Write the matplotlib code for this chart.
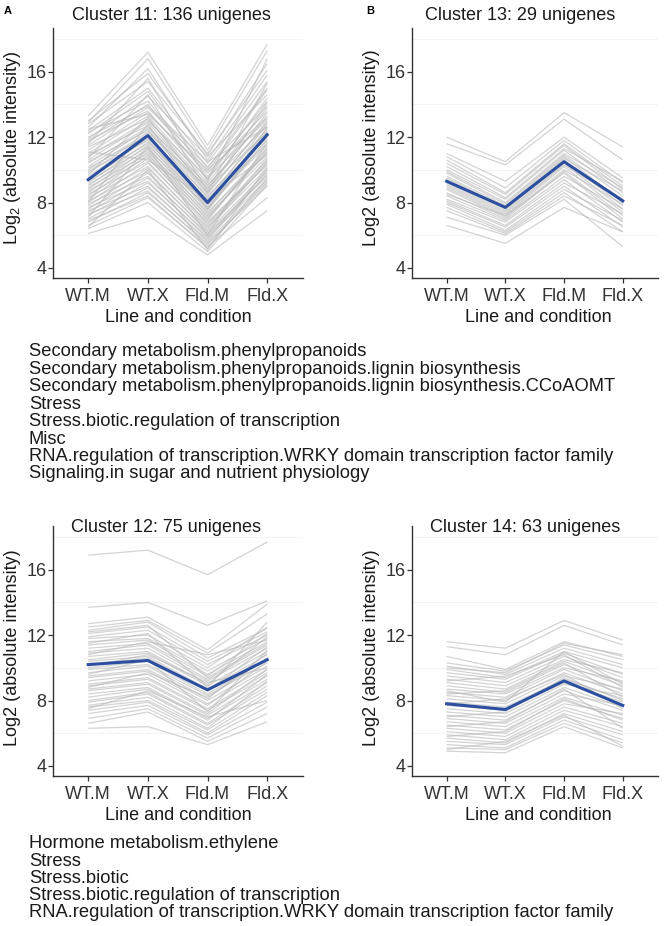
import matplotlib
matplotlib.use('Agg')
import matplotlib.pyplot as plt

plt.rcParams['font.family'] = ['Liberation Sans', 'DejaVu Sans']
plt.rcParams['mathtext.fontset'] = 'custom'
plt.rcParams['mathtext.rm'] = 'Liberation Sans'
plt.rcParams['mathtext.it'] = 'Liberation Sans:italic'

# ---- data ----
conditions = ['WT.M', 'WT.X', 'Fld.M', 'Fld.X']

c11_title = 'Cluster 11: 136 unigenes'
c11_mean = [9.4, 12.1, 8.0, 12.15]
c11_lines = [
    [13.3, 17.2, 11.5, 17.7], [12.9, 16.8, 11.2, 17.3], [13.0, 15.9, 10.9, 16.5],
    [12.6, 16.2, 10.6, 15.8], [12.8, 15.4, 11.0, 16.1], [12.4, 15.0, 10.4, 15.4],
    [12.2, 14.8, 10.1, 15.0], [11.9, 14.5, 10.8, 14.6], [12.3, 14.2, 9.9, 14.9],
    [11.7, 14.0, 9.6, 14.2], [11.5, 13.8, 10.2, 13.9], [11.8, 13.6, 9.4, 14.4],
    [11.2, 13.5, 9.8, 13.6], [11.0, 13.3, 9.2, 13.8], [11.4, 13.1, 9.0, 13.3],
    [10.8, 13.0, 9.5, 13.1], [10.6, 12.9, 8.8, 13.5], [10.9, 12.7, 8.6, 12.9],
    [10.4, 12.6, 9.1, 12.7], [10.2, 12.5, 8.5, 13.0], [10.5, 12.4, 8.3, 12.5],
    [10.0, 12.3, 8.9, 12.3], [9.8, 12.2, 8.1, 12.8], [10.1, 12.1, 8.0, 12.1],
    [9.6, 12.0, 8.4, 12.0], [9.4, 11.9, 7.8, 12.4], [9.9, 11.8, 7.6, 11.8],
    [9.2, 11.7, 8.2, 11.6], [9.5, 11.6, 7.5, 12.2], [9.0, 11.5, 7.9, 11.5],
    [9.3, 11.4, 7.3, 11.3], [8.8, 11.3, 7.7, 11.9], [9.1, 11.2, 7.1, 11.1],
    [8.6, 11.1, 7.4, 11.0], [8.9, 11.0, 6.9, 11.4], [8.4, 10.9, 7.2, 10.8],
    [8.7, 10.8, 6.7, 10.6], [8.2, 10.7, 7.0, 11.2], [8.5, 10.5, 6.6, 10.4],
    [8.0, 10.4, 6.8, 10.3], [8.3, 10.2, 6.4, 10.7], [7.8, 10.1, 6.5, 10.1],
    [8.1, 9.9, 6.2, 9.9], [7.6, 9.8, 6.3, 10.5], [7.9, 9.6, 6.0, 9.7],
    [7.4, 9.5, 6.1, 9.6], [7.7, 9.3, 5.8, 10.0], [7.2, 9.2, 5.9, 9.4],
    [7.5, 9.0, 5.6, 9.3], [7.0, 8.9, 5.7, 9.8], [7.3, 8.7, 5.4, 9.2],
    [6.8, 8.6, 5.5, 9.0], [6.9, 8.4, 5.2, 9.5], [6.6, 8.3, 5.3, 8.3],
    [6.4, 8.0, 5.0, 9.1], [6.1, 7.2, 4.8, 7.5], [12.0, 13.9, 10.5, 12.6],
    [11.6, 15.6, 9.3, 16.8], [10.7, 14.6, 8.7, 15.3], [9.7, 13.2, 8.6, 14.1],
    [8.0, 12.8, 7.6, 12.6], [7.1, 11.4, 6.0, 11.7], [6.5, 10.0, 5.1, 10.2],
    [12.5, 13.4, 10.0, 13.2], [11.1, 10.6, 8.2, 10.9],
]

c13_title = 'Cluster 13: 29 unigenes'
c13_mean = [9.3, 7.7, 10.5, 8.1]
c13_lines = [
    [12.0, 10.5, 13.5, 11.4], [11.6, 10.3, 13.1, 10.6], [11.0, 9.3, 12.0, 9.5],
    [10.8, 8.9, 11.8, 9.2], [10.6, 8.6, 11.6, 9.0], [10.4, 8.5, 11.5, 8.8],
    [10.2, 8.3, 11.3, 9.3], [10.0, 8.2, 11.2, 8.6], [9.9, 8.0, 11.0, 8.9],
    [9.8, 7.9, 10.9, 8.4], [9.6, 7.8, 10.8, 8.0], [9.5, 7.7, 10.7, 8.7],
    [9.4, 7.6, 10.6, 7.8], [9.2, 7.5, 10.5, 8.2], [9.1, 7.4, 10.4, 7.6],
    [9.0, 7.3, 10.3, 8.1], [8.9, 7.2, 10.2, 7.4], [8.8, 7.1, 10.0, 7.9],
    [8.6, 7.0, 9.9, 7.2], [8.5, 7.2, 9.8, 7.0], [8.4, 6.9, 9.6, 7.6],
    [8.2, 6.8, 9.4, 6.8], [8.1, 6.6, 9.2, 7.3], [8.0, 6.5, 9.0, 6.5],
    [7.9, 6.3, 8.8, 6.9], [7.7, 6.2, 8.6, 6.2], [7.5, 6.1, 8.4, 6.6],
    [7.1, 6.0, 8.2, 5.3], [6.6, 5.5, 7.7, 6.2],
]

c12_title = 'Cluster 12: 75 unigenes'
c12_mean = [10.2, 10.45, 8.65, 10.5]
c12_lines = [
    [16.9, 17.2, 15.7, 17.7], [13.7, 14.0, 12.6, 14.1], [12.7, 13.1, 11.1, 13.9],
    [12.5, 12.9, 10.9, 13.3], [12.3, 12.8, 10.6, 12.4], [12.1, 12.5, 10.4, 12.2],
    [11.9, 12.3, 10.2, 12.0], [11.8, 12.0, 10.0, 12.5], [11.6, 11.8, 9.8, 11.8],
    [11.4, 11.7, 9.6, 11.6], [11.2, 11.5, 9.5, 12.1], [11.0, 11.4, 9.3, 11.4],
    [10.9, 11.2, 9.2, 11.2], [10.7, 11.0, 9.0, 11.9], [10.5, 10.9, 8.9, 11.0],
    [10.4, 10.7, 8.7, 10.8], [10.2, 10.6, 8.6, 11.3], [10.0, 10.4, 8.4, 10.5],
    [9.9, 10.2, 8.3, 10.3], [9.7, 10.1, 8.1, 10.9], [9.5, 9.9, 8.0, 10.1],
    [9.4, 9.8, 7.8, 9.9], [9.2, 9.6, 7.7, 10.4], [9.0, 9.4, 7.5, 9.7],
    [8.9, 9.3, 7.4, 9.5], [8.7, 9.1, 7.2, 9.9], [8.6, 9.0, 7.1, 9.3],
    [8.4, 8.8, 6.9, 9.1], [8.2, 8.7, 6.8, 9.6], [8.0, 8.5, 6.6, 8.9],
    [7.9, 8.4, 6.5, 8.7], [7.7, 8.2, 6.3, 9.2], [7.6, 8.0, 6.2, 8.5],
    [7.4, 7.9, 6.0, 8.3], [7.2, 7.7, 5.9, 7.9], [6.9, 7.5, 5.7, 7.6],
    [6.6, 7.3, 5.5, 7.2], [6.3, 6.4, 5.3, 6.7], [12.2, 12.6, 9.4, 11.5],
    [11.5, 12.1, 8.8, 12.8], [10.8, 11.6, 10.8, 11.7], [9.6, 10.5, 7.3, 11.1],
    [8.8, 9.7, 8.2, 10.6], [7.5, 8.6, 7.0, 8.0], [10.1, 10.8, 9.1, 10.0],
]

c14_title = 'Cluster 14: 63 unigenes'
c14_mean = [7.8, 7.45, 9.2, 7.7]
c14_lines = [
    [11.6, 11.2, 12.9, 11.7], [11.3, 10.8, 12.6, 11.4], [10.7, 9.9, 11.6, 10.7],
    [10.3, 9.8, 11.4, 10.5], [10.1, 9.6, 11.2, 10.2], [9.9, 9.4, 11.0, 10.0],
    [9.7, 9.3, 10.9, 9.6], [9.5, 9.1, 10.7, 9.4], [9.3, 8.9, 10.5, 9.7],
    [9.1, 8.7, 10.4, 9.1], [8.9, 8.5, 10.2, 8.9], [8.7, 8.4, 10.0, 9.2],
    [8.5, 8.2, 9.9, 8.6], [8.3, 8.0, 9.7, 8.4], [8.1, 7.8, 9.5, 8.7],
    [7.9, 7.6, 9.3, 8.1], [7.7, 7.4, 9.1, 7.9], [7.5, 7.2, 9.0, 8.3],
    [7.3, 7.0, 8.8, 7.6], [7.1, 6.8, 8.6, 7.4], [6.9, 6.6, 8.4, 7.7],
    [6.7, 6.4, 8.2, 7.1], [6.5, 6.2, 8.0, 6.9], [6.3, 6.0, 7.8, 7.2],
    [6.1, 5.8, 7.6, 6.6], [5.9, 5.6, 7.4, 6.4], [5.7, 5.4, 7.2, 6.1],
    [5.5, 5.3, 7.0, 5.9], [5.3, 5.1, 6.8, 5.6], [5.1, 5.0, 6.6, 5.4],
    [4.9, 4.8, 6.4, 5.1], [10.0, 9.7, 11.5, 10.8], [9.2, 9.5, 10.8, 8.8],
    [8.6, 7.9, 11.0, 9.0], [7.8, 8.1, 9.6, 7.5], [7.0, 7.3, 9.4, 8.0],
    [6.4, 6.7, 8.7, 6.3], [5.8, 6.1, 8.1, 6.8], [5.0, 5.5, 7.1, 5.2],
    [8.4, 8.6, 10.3, 8.2],
]

bins_top = [
    'Secondary metabolism.phenylpropanoids',
    'Secondary metabolism.phenylpropanoids.lignin biosynthesis',
    'Secondary metabolism.phenylpropanoids.lignin biosynthesis.CCoAOMT',
    'Stress',
    'Stress.biotic.regulation of transcription',
    'Misc',
    'RNA.regulation of transcription.WRKY domain transcription factor family',
    'Signaling.in sugar and nutrient physiology',
]
bins_bottom = [
    'Hormone metabolism.ethylene',
    'Stress',
    'Stress.biotic',
    'Stress.biotic.regulation of transcription',
    'RNA.regulation of transcription.WRKY domain transcription factor family',
]

y_ticks = [4, 8, 12, 16]

# ---- style ----
W, H = 666, 926
GRAY_LINE = '#b9b9b9'
BLUE = '#2c4fa0'
TXT = '#1a1a1a'
TICK_TXT = '#333333'
AXIS = '#333333'

fig = plt.figure(figsize=(W / 100, H / 100), dpi=100)
fig.patch.set_facecolor('white')


def px(x, y):
    return x / W, 1 - y / H


def panel(rect, lines, mean, title, title_xy, ylabel, ylabel_xy, xlabel_xy):
    ax = fig.add_axes(rect)
    for row in lines:
        ax.plot(conditions, row, color=GRAY_LINE, lw=0.9, alpha=0.62,
                solid_capstyle='butt', zorder=2)
    ax.plot(conditions, mean, color=BLUE, lw=2.2, zorder=3)
    ax.set_xlim(-0.59, 3.6)
    ax.set_ylim(3.38, 18.68)
    ax.set_yticks(y_ticks)
    ax.set_yticks([6, 10, 14, 18], minor=True)
    ax.grid(which='minor', axis='y', color='#f4f4f4', lw=0.8, zorder=0)
    ax.tick_params(axis='y', which='minor', length=0)
    for s in ['top', 'right']:
        ax.spines[s].set_visible(False)
    for s in ['left', 'bottom']:
        ax.spines[s].set_color(AXIS)
        ax.spines[s].set_linewidth(1.0)
    ax.tick_params(axis='both', which='major', length=3.5, width=0.9,
                   color=AXIS, labelsize=13, labelcolor=TICK_TXT)
    ax.tick_params(axis='y', pad=1.2)
    ax.tick_params(axis='x', pad=4)
    fig.text(*px(*title_xy), title, ha='center', va='center',
             fontsize=13, color=TXT)
    fig.text(*px(*ylabel_xy), ylabel, ha='center', va='center',
             rotation=90, fontsize=13, color=TXT)
    fig.text(*px(*xlabel_xy), 'Line and condition', ha='center',
             va='center', fontsize=13, color=TXT)
    return ax


panel([53 / W, 1 - 278 / H, 250 / W, 250 / H], c11_lines, c11_mean,
      c11_title, (171, 15), r'Log$_2$ (absolute intensity)', (13, 148), (178, 318))
panel([412 / W, 1 - 278 / H, 246 / W, 250 / H], c13_lines, c13_mean,
      c13_title, (520, 15), 'Log2 (absolute intensity)', (371, 148), (538, 318))
panel([53 / W, 1 - 776 / H, 250 / W, 250 / H], c12_lines, c12_mean,
      c12_title, (166, 528), 'Log2 (absolute intensity)', (13, 648), (178, 816))
panel([412 / W, 1 - 776 / H, 246 / W, 250 / H], c14_lines, c14_mean,
      c14_title, (525, 528), 'Log2 (absolute intensity)', (371, 648), (538, 816))

# panel letters
fig.text(*px(4, 11), 'A', fontsize=8, fontweight='bold', va='center', color='black')
fig.text(*px(366, 11), 'B', fontsize=8, fontweight='bold', va='center', color='black')

# MapMan bins under the panels
for i, t in enumerate(bins_top):
    fig.text(*px(29, 352 + i * 17.4), t, fontsize=13.2, va='center', color=TXT)
for i, t in enumerate(bins_bottom):
    fig.text(*px(29, 844 + i * 17.2), t, fontsize=13.2, va='center', color=TXT)

fig.savefig('out.png', dpi=100, facecolor='white')
